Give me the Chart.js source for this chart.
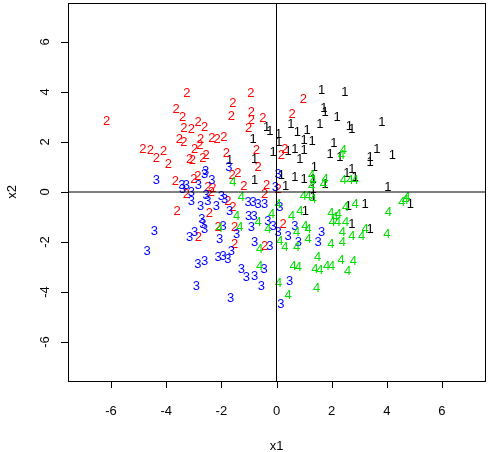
<!DOCTYPE html>
<html>
<head>
<meta charset="utf-8">
<script src="https://cdn.jsdelivr.net/npm/chart.js@4/dist/chart.umd.min.js"></script>
<style>
  html, body { margin: 0; padding: 0; background: #ffffff; }
  canvas { display: block; }
</style>
</head>
<body>
<canvas id="c" width="492" height="452"></canvas>
<script>
// ---- data ----
const xTicks = [-6, -4, -2, 0, 2, 4, 6];
const yTicks = [-6, -4, -2, 0, 2, 4, 6];
const groupLabels = ["1", "2", "3", "4"];
const groupColors = ["#000000", "#ff0000", "#0000ff", "#00dd00"];

const group1X = [1.64,2.48,1.72,1.76,2.20,3.82,1.57,2.64,2.73,0.52,0.76,1.11,-0.36,-0.24,0.08,0.09,1.00,1.29,1.00,0.67,0.42,-0.12,0.85,2.08,1.94,2.30,3.39,3.39,3.64,4.20,1.37,0.67,1.00,0.18,0.33,2.55,2.73,2.85,1.33,1.76,4.04,-1.70,-0.79,-0.79,-0.85,1.33,2.61,3.21,1.05,2.73,3.39,4.85,1.33];
const group1Y = [4.10,4.01,3.39,3.23,3.03,2.83,2.73,2.67,2.54,2.73,2.43,2.50,2.63,2.46,2.36,2.03,2.10,2.06,1.70,1.76,1.66,1.63,1.36,2.00,1.56,1.43,1.43,1.23,1.76,1.52,1.03,0.63,0.56,0.69,0.27,0.80,0.96,0.63,0.56,0.36,0.23,1.29,1.36,0.49,2.16,-0.19,-0.52,-0.45,-0.72,-1.26,-1.46,-0.45,0.15];

const group2X = [-6.16,-3.25,-3.64,-3.40,-2.84,-3.36,-3.09,-2.61,-2.75,-2.34,-2.15,-1.91,-3.52,-3.36,-4.85,-4.57,-4.36,-4.09,-3.92,-2.97,-2.78,-3.15,-3.05,-2.67,-2.55,-1.82,-1.58,-1.64,-0.93,-0.91,-0.91,-1.01,-3.67,-3.00,-2.85,-2.49,-2.31,-1.61,-1.40,-1.18,0.97,0.57,-0.49,-0.73,0.30,0.18,-0.67,-0.36,0.06,-3.60,-2.83,-2.43,-2.12,-1.76,-1.58,-1.52,-1.52,-2.36,-3.27,-0.43,0.24,-0.43];
const group2Y = [2.86,3.97,3.34,3.03,2.83,2.59,2.54,2.63,2.16,2.19,2.16,2.23,2.14,2.03,1.76,1.70,1.39,1.66,1.16,1.76,1.90,1.36,1.29,1.39,1.50,1.60,3.57,3.07,3.97,3.23,2.90,2.57,0.45,0.56,0.67,0.23,0.19,0.69,0.79,0.27,3.74,3.13,2.99,1.70,1.76,1.50,1.03,0.29,0.16,-0.72,-1.79,-0.83,-1.39,-0.32,-0.59,-1.39,-2.06,0.01,-0.05,-0.05,-1.25,-2.12];

const group3X = [-4.43,-4.69,-2.91,-1.66,-3.15,-2.97,-2.67,-2.71,-2.61,-2.75,-3.09,-2.49,-2.18,-1.94,-2.06,-2.12,-1.94,-1.76,-1.64,-2.85,-2.61,-1.70,-1.45,-1.03,-0.85,-1.01,-0.81,-0.91,-0.79,-1.27,-1.09,-0.79,-1.88,-4.36,-3.43,-3.27,-2.83,-2.61,-2.34,-1.73,-3.09,-2.55,-2.00,-3.40,-2.57,-0.67,-0.43,0.12,-0.31,-0.12,0.06,0.42,0.67,0.79,-0.24,1.64,1.51,0.48,-0.55,0.16,-0.45,0.06,-0.04];
const group3Y = [-1.52,-2.35,-3.73,-4.22,-1.76,-1.59,-1.26,-1.06,-1.46,-0.52,-0.32,-0.32,-0.52,-1.32,-1.86,-2.59,-2.53,-2.66,-2.32,-2.86,-2.73,-0.72,-1.66,-0.39,-0.39,-0.92,-0.92,-1.39,-1.99,-3.06,-3.39,-3.33,-0.25,0.49,0.29,0.32,0.32,0.76,0.49,1.03,0.03,-0.11,-0.13,0.15,0.88,-0.45,-0.45,-0.59,-1.12,-1.32,-1.59,-1.72,-1.32,-1.99,-2.12,-1.59,-1.99,-3.53,-3.73,-4.44,-3.06,0.76,0.23];

const group4X = [0.97,1.15,1.33,0.06,0.85,0.55,-0.18,-0.67,-0.31,0.12,0.30,0.73,-0.61,1.03,1.15,1.15,0.73,1.97,2.12,2.24,2.02,2.22,2.51,2.51,2.85,1.97,2.39,2.39,2.73,3.09,3.21,4.06,4.00,4.55,4.73,1.49,0.60,0.79,1.39,1.57,1.82,2.00,2.34,2.79,2.58,1.45,0.42,0.08,-0.61,-1.58,-1.27,-1.33,-1.45,2.42,2.36,1.27,1.33,1.76,1.70,2.42,2.67,2.85,-2.06,1.27,4.67];
const group4Y = [-0.12,-0.12,-0.25,-0.45,-0.72,-0.92,-0.85,-1.19,-1.46,-1.92,-2.19,-2.19,-2.26,-1.32,-1.46,-1.86,-1.59,-0.83,-0.99,-0.85,-1.19,-1.19,-1.19,-0.56,-0.45,-2.06,-1.99,-1.59,-1.72,-1.72,-1.46,-0.79,-1.66,-0.39,-0.19,-2.59,-2.93,-2.99,-3.06,-3.10,-2.93,-2.93,-2.70,-2.73,-3.13,-3.80,-4.09,-3.63,-2.93,0.41,-0.19,-1.39,-0.92,1.70,1.50,0.69,0.49,0.56,0.36,0.49,0.49,0.49,-1.42,0.28,-0.28];

const groupsX = [group1X, group2X, group3X, group4X];
const groupsY = [group1Y, group2Y, group3Y, group4Y];

const FONT = '"Liberation Sans", Arial, Helvetica, sans-serif';
const LABEL_PX = 13;
const TICK_PX = 13;

const datasets = groupsX.map((xs, g) => ({
  label: groupLabels[g],
  data: xs.map((x, i) => ({ x: x, y: groupsY[g][i] })),
  pointRadius: 0,
  pointHoverRadius: 0,
  showLine: false,
  textColor: groupColors[g]
}));

const textPoints = {
  id: 'textPoints',
  afterDatasetsDraw(chart) {
    const ctx = chart.ctx;
    ctx.save();
    ctx.font = LABEL_PX + 'px ' + FONT;
    ctx.textAlign = 'center';
    ctx.textBaseline = 'alphabetic';
    chart.data.datasets.forEach((ds, i) => {
      const meta = chart.getDatasetMeta(i);
      ctx.fillStyle = ds.textColor;
      meta.data.forEach(el => {
        ctx.fillText(ds.label, el.x, el.y + LABEL_PX * 0.358);
      });
    });
    ctx.restore();
  }
};

const rAxes = {
  id: 'rAxes',
  afterDraw(chart) {
    const ctx = chart.ctx;
    const a = chart.chartArea;
    const xs = chart.scales.x, ys = chart.scales.y;
    ctx.save();
    ctx.strokeStyle = '#000000';
    ctx.lineWidth = 1;
    // reference lines at 0
    const x0 = xs.getPixelForValue(0), y0 = ys.getPixelForValue(0);
    ctx.beginPath();
    ctx.moveTo(x0, a.top); ctx.lineTo(x0, a.bottom);
    ctx.moveTo(a.left, y0); ctx.lineTo(a.right, y0);
    ctx.stroke();
    // box
    ctx.strokeRect(Math.round(a.left) + 0.5, Math.round(a.top) + 0.5,
                   Math.round(a.right - a.left), Math.round(a.bottom - a.top));
    // x ticks
    ctx.fillStyle = '#000000';
    ctx.font = TICK_PX + 'px ' + FONT;
    ctx.textAlign = 'center';
    ctx.textBaseline = 'middle';
    ctx.beginPath();
    xTicks.forEach(v => {
      const px = Math.round(xs.getPixelForValue(v)) + 0.5;
      ctx.moveTo(px, a.bottom); ctx.lineTo(px, a.bottom + 7);
    });
    yTicks.forEach(v => {
      const py = Math.round(ys.getPixelForValue(v)) + 0.5;
      ctx.moveTo(a.left, py); ctx.lineTo(a.left - 7, py);
    });
    ctx.stroke();
    xTicks.forEach(v => {
      ctx.fillText(String(v).replace('-', '-'), xs.getPixelForValue(v), a.bottom + 30);
    });
    yTicks.forEach(v => {
      ctx.save();
      ctx.translate(a.left - 23, ys.getPixelForValue(v));
      ctx.rotate(-Math.PI / 2);
      ctx.fillText(String(v), 0, 0);
      ctx.restore();
    });
    // axis titles
    ctx.fillText('x1', (a.left + a.right) / 2, 446);
    ctx.save();
    ctx.translate(12, (a.top + a.bottom) / 2);
    ctx.rotate(-Math.PI / 2);
    ctx.fillText('x2', 0, 0);
    ctx.restore();
    ctx.restore();
  }
};

new Chart(document.getElementById('c'), {
  type: 'scatter',
  data: { datasets: datasets },
  options: {
    responsive: false,
    animation: false,
    devicePixelRatio: 1,
    events: [],
    layout: { padding: { left: 68, top: 3, right: 7, bottom: 71 } },
    scales: {
      x: { type: 'linear', min: -7.56, max: 7.56, display: false },
      y: { type: 'linear', min: -7.56, max: 7.56, display: false }
    },
    plugins: { legend: { display: false }, tooltip: { enabled: false } }
  },
  plugins: [textPoints, rAxes]
});
</script>
</body>
</html>
